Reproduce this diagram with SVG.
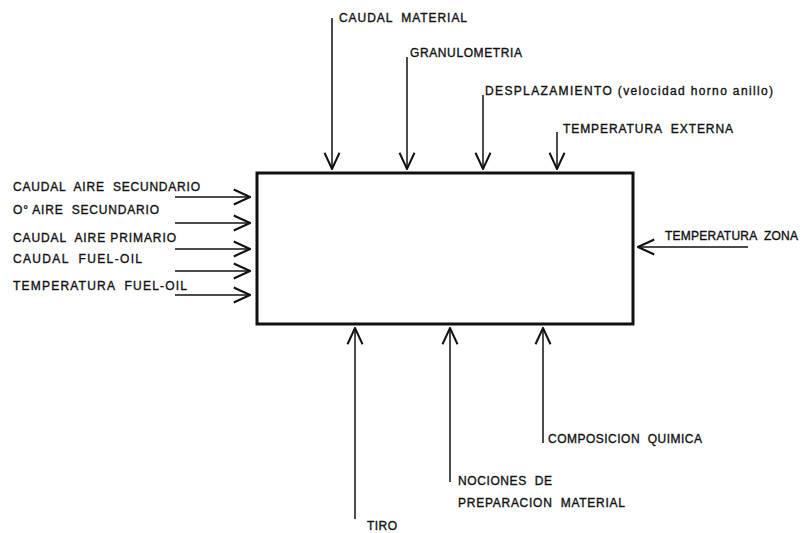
<svg xmlns="http://www.w3.org/2000/svg" width="812" height="533" viewBox="0 0 812 533">
<style>
text{font-family:"Liberation Sans",Arial,sans-serif;font-size:12px;fill:#111;stroke:#111;stroke-width:0.35;white-space:pre;}
.c line{stroke:#111;stroke-width:1.5;fill:none;marker-end:url(#ah);}
</style>
<defs>
<marker id="ah" markerUnits="userSpaceOnUse" markerWidth="20" markerHeight="20" viewBox="-15 -8 16 16" refX="0" refY="0" orient="auto">
<path d="M-13,-6 L0,0 L-13,6" fill="none" stroke="#111" stroke-width="1.6"/>
</marker>
</defs>
<rect width="812" height="533" fill="#fff"/>
<g id="proceso">
<rect x="257" y="173" width="376" height="151" fill="none" stroke="#111" stroke-width="3"/>
</g>
<g id="connectors" class="c">
<line x1="332" y1="18" x2="332" y2="169"/>
<line x1="407" y1="57" x2="407" y2="169"/>
<line x1="483" y1="95" x2="483" y2="169"/>
<line x1="557" y1="132" x2="557" y2="169"/>
<line x1="175" y1="197" x2="250" y2="197"/>
<line x1="175" y1="223" x2="250" y2="223"/>
<line x1="175" y1="249" x2="250" y2="249"/>
<line x1="175" y1="271" x2="250" y2="271"/>
<line x1="175" y1="295" x2="250" y2="295"/>
<line x1="748" y1="247" x2="638" y2="247"/>
<line x1="355" y1="519" x2="355" y2="328"/>
<line x1="450" y1="482" x2="450" y2="328"/>
<line x1="543" y1="443" x2="543" y2="328"/>
</g>
<g id="caudal-material"><text x="339" y="21.5" textLength="128" lengthAdjust="spacing">CAUDAL  MATERIAL</text></g>
<g id="granulometria"><text x="410" y="56.5" textLength="112" lengthAdjust="spacing">GRANULOMETRIA</text></g>
<g id="desplazamiento"><text x="485" y="94.5" textLength="288" lengthAdjust="spacing">DESPLAZAMIENTO (velocidad horno anillo)</text></g>
<g id="temperatura-externa"><text x="563" y="132.5" textLength="170" lengthAdjust="spacing">TEMPERATURA  EXTERNA</text></g>
<g id="caudal-aire-secundario"><text x="13" y="191" textLength="187" lengthAdjust="spacing">CAUDAL  AIRE  SECUNDARIO</text></g>
<g id="grado-aire-secundario"><text x="13" y="214" textLength="146" lengthAdjust="spacing">O° AIRE  SECUNDARIO</text></g>
<g id="caudal-aire-primario"><text x="13" y="242" textLength="163" lengthAdjust="spacing">CAUDAL  AIRE PRIMARIO</text></g>
<g id="caudal-fuel-oil"><text x="13" y="263" textLength="129" lengthAdjust="spacing">CAUDAL  FUEL-OIL</text></g>
<g id="temperatura-fuel-oil"><text x="13" y="290" textLength="174" lengthAdjust="spacing">TEMPERATURA  FUEL-OIL</text></g>
<g id="temperatura-zona"><text x="665" y="240" textLength="133" lengthAdjust="spacing">TEMPERATURA  ZONA</text></g>
<g id="tiro"><text x="367" y="530" textLength="30" lengthAdjust="spacing">TIRO</text></g>
<g id="nociones"><text x="458" y="485" textLength="94" lengthAdjust="spacing">NOCIONES  DE</text><text x="458" y="507" textLength="167" lengthAdjust="spacing">PREPARACION  MATERIAL</text></g>
<g id="composicion"><text x="548" y="443" textLength="154" lengthAdjust="spacing">COMPOSICION  QUIMICA</text></g>
</svg>
